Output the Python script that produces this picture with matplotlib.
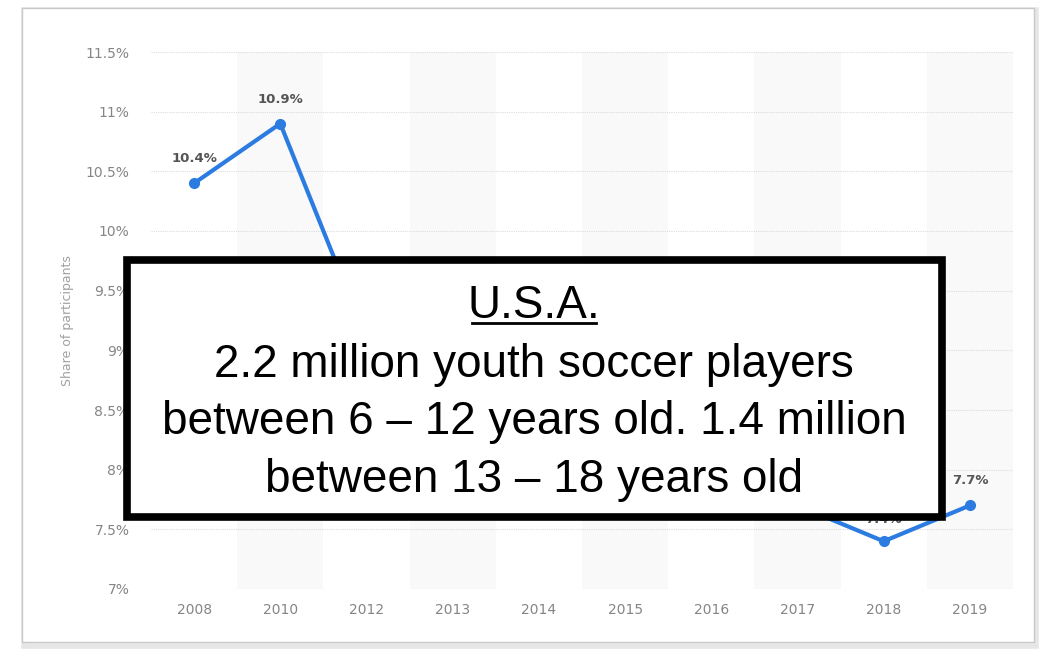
import matplotlib
matplotlib.use("Agg")
import matplotlib.pyplot as plt
from matplotlib.patches import Rectangle
from matplotlib.lines import Line2D
import numpy as np

years = ["2008", "2010", "2012", "2013", "2014", "2015", "2016", "2017", "2018", "2019"]
share = [10.4, 10.9, 9.1, 8.9, 8.6, 8.4, 8.1, 7.7, 7.4, 7.7]
labeled = ["2008", "2010", "2018", "2019"]   # the others sit under the box
yticks = [7, 7.5, 8, 8.5, 9, 9.5, 10, 10.5, 11, 11.5]
box_title = "U.S.A."
box_lines = ["2.2 million youth soccer players",
             "between 6 \u2013 12 years old. 1.4 million",
             "between 13 \u2013 18 years old"]

box_font = ["Liberation Sans", "DejaVu Sans"]

fig = plt.figure(figsize=(10.42, 6.51), dpi=100)
fig.patch.set_facecolor("white")

# card frame with soft shadow
fig.add_artist(Rectangle((24/1042, 1-646/651), 1012/1042, 636/651, transform=fig.transFigure,
                         facecolor="none", edgecolor="#e6e6e6", lw=4, zorder=0))
fig.add_artist(Rectangle((22/1042, 1-642/651), 1012/1042, 634/651, transform=fig.transFigure,
                         facecolor="white", edgecolor="#c8c8c8", lw=1, zorder=0))

ax = fig.add_axes([151/1042, 1-589/651, 862/1042, 537/651])
ax.set_facecolor("none")
x = np.arange(len(years))

for i in x:
    if i % 2 == 1:
        ax.axvspan(i-0.5, i+0.5, color="#f9f9f9", zorder=0, lw=0)

for v in yticks:
    ax.axhline(v, color="#dcdcdc", lw=0.8, ls=(0, (1, 1)), zorder=1)

ax.plot(x, share, "-o", color="#2b7be0", lw=3, markersize=7, zorder=3)
for xi, yr, v in zip(x, years, share):
    if yr in labeled:
        off = 11 if yr == "2018" else 13
        ax.annotate(f"{v}%", (xi, v), xytext=(0, off), textcoords="offset points",
                    ha="center", va="bottom", fontsize=9.5, fontweight="bold",
                    color="#555555", zorder=4)

ax.set_xlim(-0.5, len(years)-0.5)
ax.set_ylim(7, 11.5)
ax.set_xticks(x)
ax.set_xticklabels(years, fontsize=10, color="#858585")
ax.set_yticks(yticks)
ax.set_yticklabels([f"{v:g}%" for v in yticks], fontsize=10, color="#858585")
ax.tick_params(length=0)
ax.tick_params(axis="x", pad=10)
ax.tick_params(axis="y", pad=15.5)
for s in ax.spines.values():
    s.set_visible(False)
ax.set_ylabel("Share of participants", fontsize=9, color="#a0a0a0", labelpad=8)

# overlay text box
fig.add_artist(Rectangle((127/1042, 1-517/651), 815/1042, 257/651, transform=fig.transFigure,
                         facecolor="white", edgecolor="black", lw=5.5, zorder=10))
cx = 534/1042
fig.text(cx, 1-318/651, box_title, ha="center", va="baseline", fontsize=33,
         family=box_font, color="black", zorder=11)
fig.add_artist(Line2D([472/1042, 596/1042], [1-323/651, 1-323/651], transform=fig.transFigure,
                      color="black", lw=2, zorder=11))
for k, line in enumerate(box_lines):
    fig.text(cx, 1-(377+57.5*k)/651, line, ha="center", va="baseline", fontsize=33,
             family=box_font, color="black", zorder=11)

fig.savefig("out.png", dpi=100)
